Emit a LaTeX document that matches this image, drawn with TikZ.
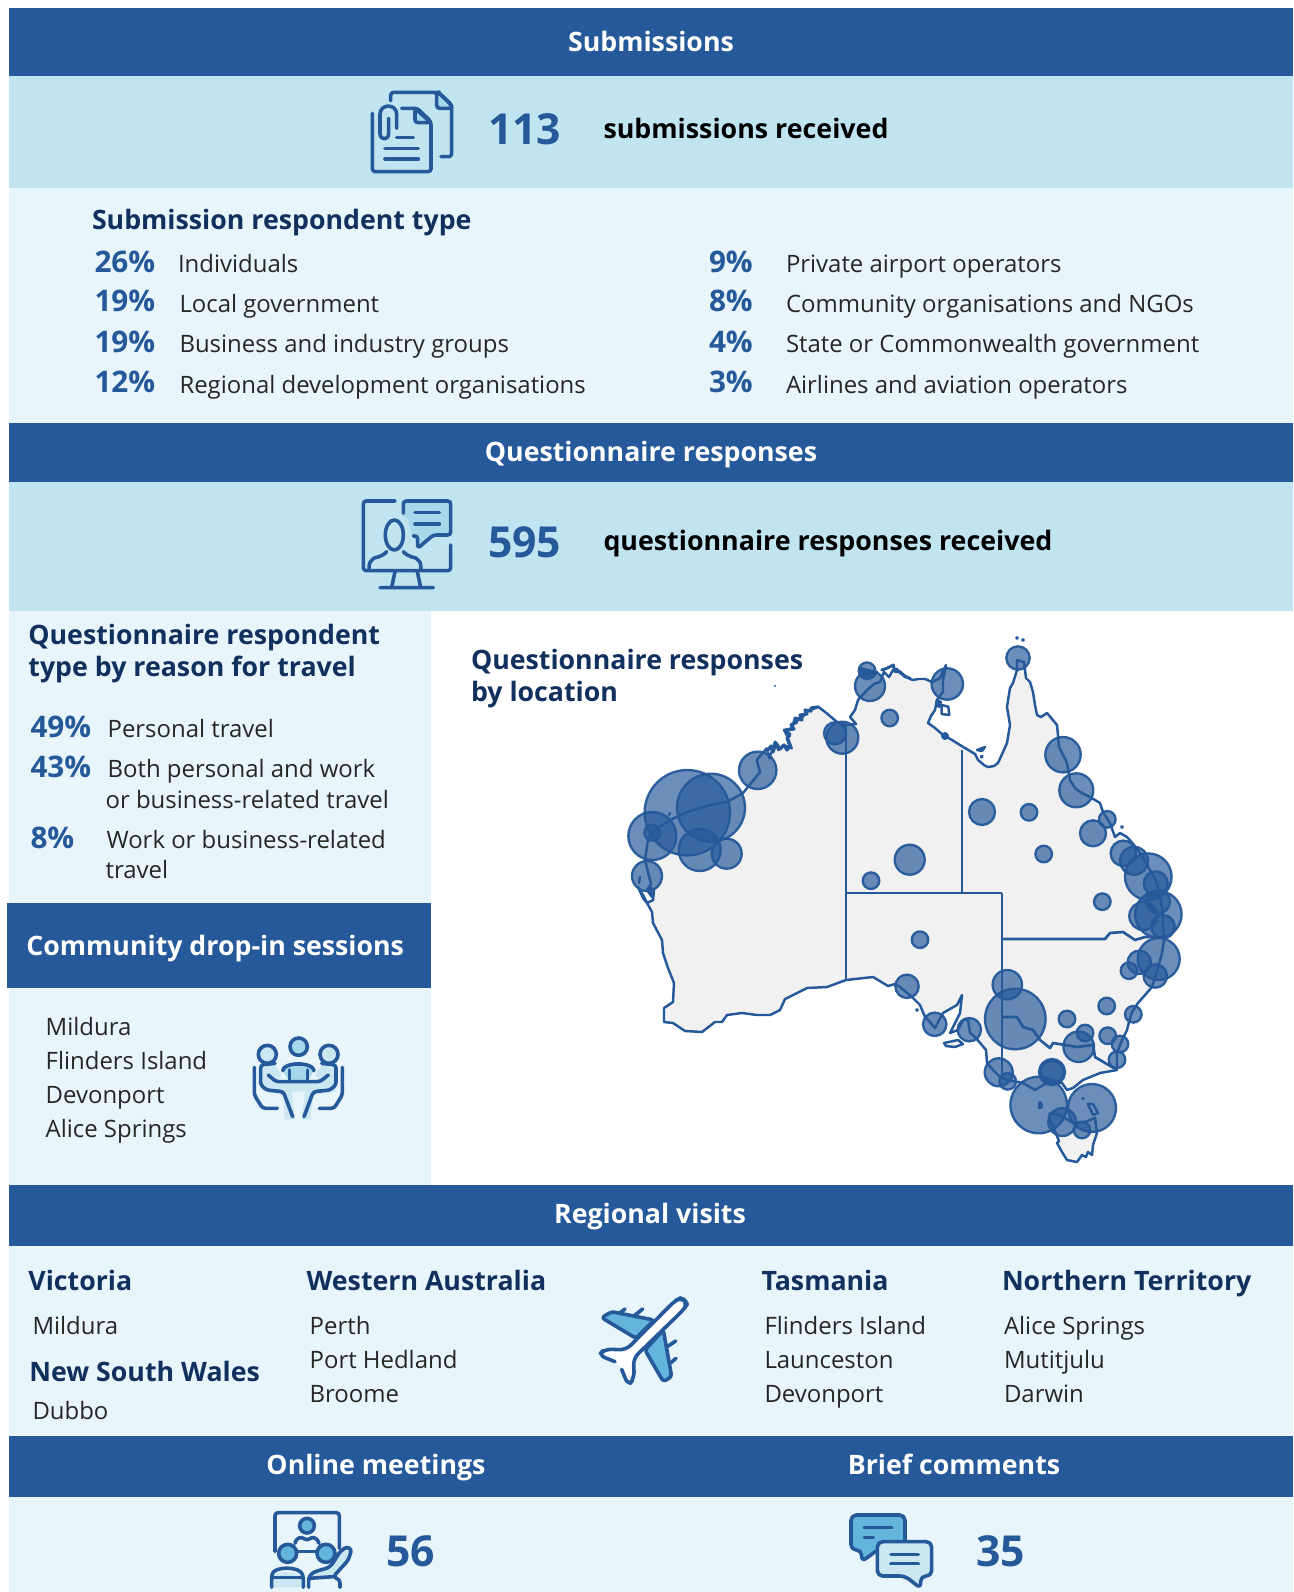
\documentclass[tikz,border=0pt]{standalone}
\usepackage{fontspec}
\setmainfont{Open Sans}
\definecolor{band}{HTML}{25599A}
\definecolor{navy}{HTML}{12305E}
\definecolor{mid}{HTML}{C1E4F1}
\definecolor{pale}{HTML}{E8F5FB}
\definecolor{landc}{HTML}{F1F1F2}
\definecolor{icofill}{HTML}{A6D8EC}
\definecolor{icosky}{HTML}{64B5DC}
\definecolor{icopale}{HTML}{CBE7F2}
\tikzset{
 x=0.75pt,y=-0.75pt,
 txt/.style={anchor=base west,inner sep=0,outer sep=0,font=\fontsize{17.95}{22}\selectfont,text=black!85},
 head/.style={anchor=base,inner sep=0,outer sep=0,font=\fontsize{20.05}{24}\selectfont\bfseries,text=white},
 sub/.style={anchor=base west,inner sep=0,outer sep=0,font=\fontsize{20.05}{24}\selectfont\bfseries,text=navy},
 pct/.style={anchor=base west,inner sep=0,outer sep=0,font=\fontsize{22.3}{26}\selectfont\bfseries,text=band},
 big/.style={anchor=base west,inner sep=0,outer sep=0,font=\fontsize{32}{38}\selectfont\bfseries,text=band},
 lead/.style={anchor=base west,inner sep=0,outer sep=0,font=\fontsize{20.1}{25}\selectfont\bfseries,text=black},
 coast/.style={draw=band,line width=1.85pt,line join=round,line cap=round},
 bub/.style={draw=band,fill=band,fill opacity=.68,draw opacity=.95,line width=1.75pt},
 ico/.style={draw=band,line width=2.7pt,line join=round,line cap=round,rounded corners=2.2pt},
}
\newcommand\bb[3]{\path[bub] (#1,#2) circle[radius=#3*0.75pt];}
\begin{document}
\begin{tikzpicture}
\useasboundingbox (0,0) rectangle (1293,1592);
\fill[white] (0,0) rectangle (1293,1592);
% bands
\fill[band] (9,8) rectangle (1293,76);
\fill[mid] (9,76) rectangle (1293,188);
\fill[pale] (9,188) rectangle (1293,423);
\fill[band] (9,423) rectangle (1293,482);
\fill[mid] (9,482) rectangle (1293,611);
\fill[pale] (9,611) rectangle (430.5,1185);
\fill[band] (7,903) rectangle (430.5,988);
\fill[band] (9,1185) rectangle (1293,1246);
\fill[pale] (9,1246) rectangle (1293,1436);
\fill[band] (9,1436) rectangle (1293,1497);
\fill[pale] (9,1497) rectangle (1293,1592);
% section heads
\node[head] (hSub) at (651,51) {Submissions};
\node[head] (hQue) at (651,461) {Questionnaire responses};
\node[head] (hReg) at (650,1223) {Regional visits};
\node[head] (hOnl) at (376,1474) {Online meetings};
\node[head] (hBri) at (954,1474) {Brief comments};
\node[head,anchor=base west] (hCom) at (26.4,955) {Community drop-in sessions};
% submissions
\node[big] (n113) at (488,144) {113};
\node[lead] (l113) at (603.5,138) {submissions received};
\node[sub] (sType) at (92,229.5) {Submission respondent type};
\node[pct] (p1) at (94.5,272) {26\%}; \node[txt] (t1) at (178,272) {Individuals};
\node[pct] (p2) at (94.5,311.5) {19\%}; \node[txt] (t2) at (179.5,312) {Local government};
\node[pct] (p3) at (94.5,352) {19\%}; \node[txt] (t3) at (179.5,352) {Business and industry groups};
\node[pct] (p4) at (94.5,392.5) {12\%}; \node[txt] (t4) at (179.5,393) {Regional development organisations};
\node[pct] (p5) at (709,272) {9\%}; \node[txt] (t5) at (786,272) {Private airport operators};
\node[pct] (p6) at (709,311.5) {8\%}; \node[txt] (t6) at (786,312) {Community organisations and NGOs};
\node[pct] (p7) at (709,352) {4\%}; \node[txt] (t7) at (786,352) {State or Commonwealth government};
\node[pct] (p8) at (709,392.5) {3\%}; \node[txt] (t8) at (786,393) {Airlines and aviation operators};
% questionnaire
\node[big] (n595) at (488,557.5) {595};
\node[lead] (l595) at (603.5,550.5) {questionnaire responses received};
\node[sub] (q1) at (28.4,644) {Questionnaire respondent};
\node[sub] (q2) at (28.4,676) {type by reason for travel};
\node[pct] (p9) at (30.5,737) {49\%}; \node[txt] (t9) at (107.6,737) {Personal travel};
\node[pct] (p10) at (30.5,777) {43\%}; \node[txt] (t10) at (107.6,777) {Both personal and work};
\node[txt] (t10b) at (105.6,808) {or business-related travel};
\node[pct] (p11) at (30.5,848) {8\%}; \node[txt] (t11) at (106.6,848) {Work or business-related};
\node[txt] (t11b) at (105.6,878) {travel};
% drop-in
\node[txt] (d1) at (45.7,1035.6) {Mildura};
\node[txt] (d2) at (45.7,1069) {Flinders Island};
\node[txt] (d3) at (45.7,1103.6) {Devonport};
\node[txt] (d4) at (45.7,1137) {Alice Springs};
% map
\node[sub] (m1) at (471,669) {Questionnaire responses};
\node[sub] (m2) at (471,701.5) {by location};
\path[fill=landc,coast]
 (846,725)--(856,724)--(850,717)--(855,710)--(858,700)--(867,690)--(874,684)--(880,682)--(884,672)--(889,677)--(893,670)--(897,669)--(900,673)--(904,675)--(910,679)
 --(913,680)--(918,679)--(925,679)--(932,682)--(940,678)--(946,665)--(943,680)--(943,692)--(937,700)--(935,710)--(931,716)--(928,723)--(935,728)--(943,735)--(952,740)--(960,745)--(975,754)--(978,760)--(984,765)--(988,767)--(994,766)--(998,763)--(1003,752)--(1007,743)--(1010,725)--(1007,707)--(1010,688)--(1013,683)--(1017,670)--(1017,660)--(1024,662)--(1026,678)--(1030,682)--(1033,692)--(1035,705)--(1037,715)--(1041,717)--(1047,713)--(1052,719)--(1057,725)--(1058,735)--(1059,747)--(1063,755)--(1067,763)--(1070,780)--(1075,788)--(1080,792)--(1090,797)--(1100,803)--(1103,812)--(1110,823)--(1115,837)--(1120,833)--(1127,837)--(1134,845)--(1140,853)--(1150,870)--(1157,883)--(1160,897)--(1163,913)
 --(1163,923)--(1164,940)--(1162,953)--(1157,972)--(1152,987)--(1145,995)--(1138,1003)--(1132,1012)--(1129,1022)--(1127,1030)--(1122,1040)--(1117,1053)--(1117,1070)--(1100,1073)--(1083,1080)--(1073,1088)--(1067,1090)--(1062,1083)--(1052,1080)--(1035,1090)--(1023,1083)--(1007,1080)--(1000,1077)--(993,1070)--(987,1063)--(986,1050)--(981,1044)--(975,1037)--(970,1033)--(968,1020)--(963,1020)--(958,1030)--(950,1033)--(955,1023)--(960,1013)--(962,995)--(957,1005)--(943,1013)--(935,1028)--(928,1020)--(925,1017)--(920,1005)--(912,997)--(900,987)--(895,984)--(888,986)--(873,977)--(846,980)
 --(827,987)--(807,988)--(799,992)--(785,999)--(780,1010)--(770,1015)--(757,1015)--(742,1013)--(727,1015)--(722,1022)--(715,1022)--(702,1032)--(685,1031)--(673,1023)--(664,1022)--(664,1008)--(673,1002)--(674,983)--(668,968)--(663,953)--(662,940)--(653,923)--(652,912)--(647,903)--(643,898)--(638,887)--(643,895)--(647,903)--(653,900)--(654,890)--(650,887)--(652,897)--(647,890)--(651,884)--(645,860)--(648,840)--(652,832)--(670,820)--(687,812)--(710,805)--(727,802)--(743,793)--(752,782)--(760,772)--(756.7,760)--(766.7,748.3)--(769.3,758.3)--(775,741.7)--(778.3,750)--(783.3,745)--(791.7,748.3)--(786.7,735)--(784,730)--(791.7,728.3)--(795,718.3)--(801.7,718.3)--(806.7,711.7)--(818.3,706.7)--(826.7,713.3)--(836.7,721.7)--cycle;
% jagged coast
\draw[coast,line width=2.4pt] (768,750)--(771,746)--(773,752)--(776,743)--(780,749)--(784,745)--(787,750)--(790,746)--(787,738)--(790,735)--(786,730)--(794,729)--(791,725)--(797,722)--(795,718)--(802,720)--(800,715)--(807,714)--(805,710)--(811,711)--(811,708)--(818,707);
\draw[coast,line width=2.2pt] (881.7,670)--(886.7,668.3)--(893.3,665)--(895,671.7)--(900,671.7)--(905,676.7)--(910,678.3);
% islands
\path[fill=band,coast] (860,668)--(867,670)--(877,672)--(873,677)--(863,677)--cycle;
\path[coast] (941.7,705)--(948.3,706.7)--(949.3,715)--(941.7,714)--cycle;
\path[fill=band,coast] (937,700)--(941,702)--(939,707)--(936,704)--cycle;
\path[fill=band,coast] (945,736) circle[radius=2pt];
\path[fill=landc,coast] (977,750)--(985,747)--(982,751)--cycle;
\path[fill=band,coast] (981.7,756.7) circle[radius=0.6pt];
\path[fill=band,coast] (1017,638) circle[radius=0.5pt];
\path[fill=band,coast] (1023,640) circle[radius=0.6pt];
\path[fill=band,coast] (1122,827) circle[radius=0.6pt];
\path[fill=band,coast] (670,813)--(669,815);
\path[fill=band,coast] (640,877)--(639,883);
\path[fill=band] (775,686) circle[radius=0.8pt];
\path[fill=band,coast] (917,1010) circle[radius=0.5pt];
\path[fill=landc,coast] (1049,1117)--(1050,1113)--(1062,1116)--(1073,1123)--(1085,1122)--(1095,1118)--(1097,1133)--(1093,1145)--(1092,1155)--(1088,1152)--(1086,1157)--(1082,1155)--(1077,1162)--(1067,1160)--(1062,1152)--(1057,1143)--(1059,1141)--cycle;
\path[fill=landc,coast] (944,1043)--(958,1040)--(963,1044)--(955,1047)--(946,1046)--cycle;
\path[coast] (1088,1104)--(1093,1104)--(1098,1113)--(1093,1115)--cycle;
\path[coast] (1040,1102)--(1042,1105)--(1041,1108)--(1039,1108)--(1039,1104)--cycle;
\path[fill=band,coast] (1083,1098.5) circle[radius=0.3pt];
% borders
\begin{scope}[coast,line width=2pt,line cap=butt]
\draw (846,725)--(846,980);
\draw (846,893)--(1002,893);
\draw (962,750)--(962,893);
\draw (1002,893)--(1002,1077);
\draw (1002,939)--(1105,939)--(1110,933)--(1123,932)--(1135,940)--(1145,937)--(1163,937);
\draw (1002,1017)--(1017,1017)--(1023,1027)--(1033,1030)--(1040,1040)--(1050,1048)--(1053,1043)--(1077,1047)--(1093,1045)--(1095,1057)--(1117,1070);
\end{scope}
% circles
\bb{687.3}{812.7}{42.7}\bb{711}{807.7}{34}\bb{652.3}{836}{24}\bb{652.3}{832.7}{8}
\bb{699.7}{850}{21}\bb{726.7}{853.7}{15}\bb{647}{876}{15}\bb{757.7}{770.3}{18.7}
\bb{842.3}{737.7}{16}\bb{835}{733.3}{11}\bb{870}{686}{15}\bb{867}{670.7}{8.3}
\bb{889.7}{718}{8.3}\bb{871}{880.7}{8.3}\bb{909.7}{859.7}{15}\bb{947.3}{684}{15.7}
\bb{1018}{658}{11.7}\bb{1063}{754.7}{17.7}\bb{1076.3}{790.3}{17}\bb{1107.3}{819.3}{8.3}
\bb{982}{812}{13}\bb{1029}{812.3}{8.3}\bb{1093}{833.3}{13}\bb{1043.7}{854}{8.3}
\bb{1102.3}{901.7}{8.3}\bb{1123.3}{853.3}{12.7}\bb{1134}{860.7}{14}\bb{1148.3}{876.7}{23.3}
\bb{1155.7}{883.3}{12}\bb{1158.3}{914.3}{23.3}\bb{1158.3}{901.7}{11.7}\bb{1143.3}{916}{14}
\bb{1163}{926.7}{11.7}\bb{1158.7}{959}{21}\bb{1139.3}{962.3}{11.7}\bb{1129}{970.7}{8.3}
\bb{1155.3}{976}{11.7}\bb{920}{939.7}{8.3}\bb{907}{986.3}{11.7}\bb{934.7}{1024.3}{11.7}
\bb{969.3}{1029.7}{11.7}\bb{1007.3}{984.7}{14.7}\bb{1015.3}{1019}{30.3}\bb{1067}{1019}{8.3}
\bb{1106.7}{1006}{8.3}\bb{1133.3}{1014.3}{8.3}\bb{1085}{1033}{8.3}\bb{1078.7}{1046.7}{15.3}
\bb{1107.7}{1035.7}{8.3}\bb{1120}{1044}{8.3}\bb{1117}{1059.7}{8.3}\bb{998.7}{1072.3}{14}
\bb{1007.7}{1081.3}{8.3}\bb{1052}{1072}{13}\bb{1052}{1072}{11.5}\bb{1038.7}{1105}{28.3}
\bb{1092}{1108}{24}\bb{1062.3}{1122}{14}\bb{1082}{1130}{8.3}
% regional
\node[sub] (v1) at (28.4,1290) {Victoria};
\node[txt] (v2) at (32.5,1334) {Mildura};
\node[sub] (v3) at (29.4,1381) {New South Wales};
\node[txt] (v4) at (32.5,1419) {Dubbo};
\node[sub] (w1) at (306.6,1290) {Western Australia};
\node[txt] (w2) at (309.7,1334) {Perth};
\node[txt] (w3) at (309.7,1368) {Port Hedland};
\node[txt] (w4) at (309.7,1402) {Broome};
\node[sub] (a1) at (761.5,1290) {Tasmania};
\node[txt] (a2) at (764.5,1334) {Flinders Island};
\node[txt] (a3) at (764.5,1368) {Launceston};
\node[txt] (a4) at (764.5,1402) {Devonport};
\node[sub] (b1) at (1002,1290) {Northern Territory};
\node[txt] (b2) at (1004,1334) {Alice Springs};
\node[txt] (b3) at (1004,1368) {Mutitjulu};
\node[txt] (b4) at (1004,1402) {Darwin};
\node[big] (n56) at (386.5,1566) {56};
\node[big] (n35) at (976,1566) {35};
% document icon
\begin{scope}[shift={(340,70)},scale=1/3]
\draw[ico,fill=icofill] (290,70)--(290,115)--(335,115)--(335,105)--(295,67)--cycle;
\draw[ico] (152,92)--(152,67)--(295,67)--(335,105)--(335,260)--(303,260);
\draw[ico,fill=icofill] (225,115)--(225,158)--(273,158)--cycle;
\draw[ico] (97,130)--(97,305)--(273,305)--(273,155)--(232,115)--(185,115);
\draw[ico,rounded corners=0pt] (170,175)--(170,133)..controls (170,100) and (120,100)..(120,133)--(120,190)..controls (120,212) and (146,212)..(146,190)--(146,145);
\draw[ico] (170,203)--(220,203) (135,235)--(235,235) (135,267)--(235,267);
\end{scope}
% screen icon
\begin{scope}[shift={(340,480)},scale=1/3]
\path[fill=icofill] (190,63)--(332,63)--(332,165)--(280,165)--(233,205)--(233,168)--(215,168)--(205,120)--(190,105)--cycle;
\draw[ico] (165,63)--(70,63)--(70,272)--(332,272)--(332,195);
\draw[ico] (190,100)--(190,63)--(332,63)--(332,165)--(280,165)--(233,205)--(233,168)--(220,168);
\draw[ico] (225,98)--(298,98) (225,132)--(298,132);
\draw[ico] (163,165) ellipse [x radius=27*0.75pt,y radius=45*0.75pt];
\draw[ico] (140,215)..controls (125,232) and (105,232)..(95,240)..controls (88,250) and (87,260)..(87,270);
\draw[ico] (190,215)..controls (205,232) and (225,232)..(235,240)..controls (242,250) and (243,260)..(243,270);
\draw[ico] (165,275)--(155,322) (232,275)--(242,322) (120,323)--(280,323);
\end{scope}
% meeting icon
\begin{scope}[shift={(240,1020)},scale=1/3]
\path[fill=icopale] (60,150)--(100,130)--(125,165)--(105,190)--(250,190)--(225,165)--(250,130)--(290,150)--(285,215)--(220,225)--(210,298)--(185,298)--(195,215)--(155,215)--(165,298)--(135,298)--(130,225)--(75,215)--cycle;
\draw[ico,fill=icofill] (176,80) circle[radius=26*0.75pt];
\draw[ico,fill=icopale] (82,103) circle[radius=27*0.75pt];
\draw[ico,fill=icopale] (267,103) circle[radius=27*0.75pt];
\path[fill=icofill] (128,152)..controls (130,125) and (220,125)..(222,152)--(205,180)--(145,180)--cycle;
\draw[ico] (128,152)..controls (130,125) and (220,125)..(222,152);
\draw[ico] (148,150)--(148,180) (203,150)--(203,180);
\draw[ico] (85,165)--(108,185)--(240,185)--(265,165);
\draw[ico] (105,130)--(62,135)--(62,195)--(80,210)--(130,215)--(158,290);
\draw[ico] (245,130)--(288,135)--(288,195)--(270,210)--(220,215)--(192,290);
\draw[ico] (43,142)--(43,225)--(68,265)--(112,265);
\draw[ico] (307,142)--(307,225)--(282,265)--(238,265);
\end{scope}
% plane icon
\begin{scope}[shift={(580,1280)},scale=1/3]
\draw[ico,fill=icosky] (65,113)--(95,95)--(222,120)--(168,175)--cycle;
\draw[ico,fill=icosky] (250,150)--(275,290)--(250,305)--(195,210)--cycle;
\draw[ico] (120,98)--(135,87) (165,105)--(188,87) (262,200)--(287,183) (270,250)--(288,235);
\path[fill=white] (290,55)--(320,70)--(160,235)--(150,310)--(125,265)--(105,245)--(55,225)--(75,207)--(140,210)--cycle;
\draw[ico,rounded corners=5pt] (105,245)--(55,225)--(75,207)--(138,210)--(285,62)--(305,52)--(323,70)--(312,88)--(160,235)--(163,295)--(145,317)--(125,268);
\end{scope}
% online icon
\begin{scope}[shift={(250,1490)},scale=1/3]
\draw[ico] (75,185)--(75,68)--(268,68)--(268,175);
\draw[ico] (90,185)--(220,185);
\draw[ico,fill=icosky] (171,107) circle[radius=22*0.75pt];
\draw[ico] (135,160)..controls (140,140) and (155,140)..(171,152)..controls (187,140) and (200,140)..(207,160);
\draw[ico,fill=icosky] (113,190) circle[radius=27*0.75pt];
\draw[ico,fill=icosky] (228,190) circle[radius=27*0.75pt];
\path[fill=icopale] (65,292)--(65,265)..controls (70,240) and (150,240)..(160,265)--(160,292)--cycle;
\draw[ico] (65,292)--(65,262)..controls (70,228) and (150,228)..(160,262)--(160,292);
\draw[ico] (65,262)--(160,262);
\path[fill=icopale] (180,262)..controls (195,235) and (225,235)..(245,225)--(280,175)--(305,175)--(285,225)--(255,262)--cycle;
\draw[ico] (176,292)--(176,265)..controls (190,240) and (225,240)..(245,225)--(270,185)--(290,170)--(305,178)--(295,210)--(250,260)--(270,270)--(270,292);
\draw[ico] (176,265)--(250,260);
\end{scope}
% chat icon
\begin{scope}[shift={(830,1490)},scale=1/3]
\draw[ico,fill=icosky,rounded corners=4pt] (63,75)--(225,75)--(225,178)--(145,178)--(95,215)--(95,180)--(63,180)--cycle;
\draw[ico] (103,113)--(185,113) (103,142)--(130,142);
\draw[ico,fill=icopale,rounded corners=4pt] (142,155)--(305,155)--(305,258)--(272,258)--(272,295)--(225,258)--(142,258)--cycle;
\draw[ico] (183,193)--(265,193) (183,221)--(265,221);
\end{scope}
\end{tikzpicture}
\end{document}
